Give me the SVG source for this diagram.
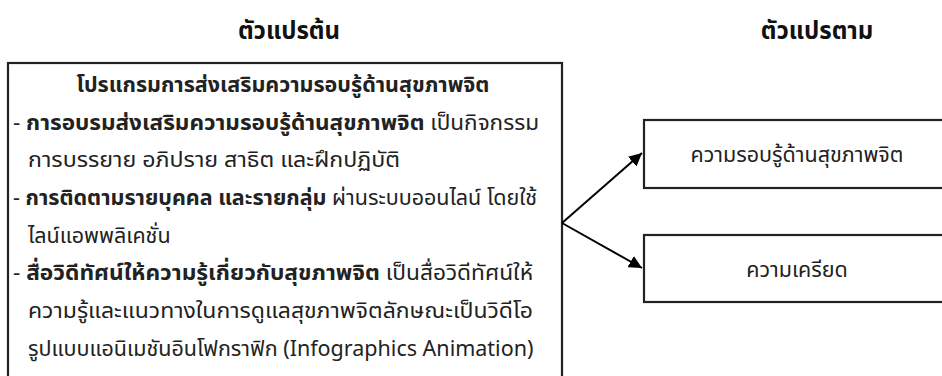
<svg xmlns="http://www.w3.org/2000/svg" width="942" height="376" viewBox="0 0 942 376">
<style>
text{font-family:"Noto Sans Thai","Noto Sans","DejaVu Sans",sans-serif;fill:#222;}
.h{font-size:24px;font-weight:bold;fill:#111;}
.t{font-size:21.5px;}
.b{font-weight:bold;}
.box{fill:#fff;stroke:#222;stroke-width:2.2;}
.c{stroke:#000;stroke-width:2;fill:none;}
</style>
<defs>
<marker id="ah" viewBox="0 0 10 10" refX="10" refY="5" markerWidth="6.5" markerHeight="6.5" orient="auto" markerUnits="strokeWidth">
<path d="M0,0 L10,5 L0,10 z" fill="#000"/>
</marker>
</defs>
<rect width="942" height="376" fill="#fff"/>
<g id="headers">
<text class="h" x="289" y="39" text-anchor="middle">ตัวแปรต้น</text>
<text class="h" x="817" y="39" text-anchor="middle">ตัวแปรตาม</text>
</g>
<g id="program">
<rect class="box" x="8" y="63" width="554" height="330"/>
<text class="t b" x="283" y="92" text-anchor="middle">โปรแกรมการส่งเสริมความรอบรู้ด้านสุขภาพจิต</text>
<text class="t" x="13" y="130" textLength="526" lengthAdjust="spacingAndGlyphs">- <tspan class="b">การอบรมส่งเสริมความรอบรู้ด้านสุขภาพจิต</tspan> เป็นกิจกรรม</text>
<text class="t" x="28" y="167" textLength="372" lengthAdjust="spacingAndGlyphs">การบรรยาย อภิปราย สาธิต และฝึกปฏิบัติ</text>
<text class="t" x="13" y="205">- <tspan class="b">การติดตามรายบุคคล และรายกลุ่ม</tspan> ผ่านระบบออนไลน์ โดยใช้</text>
<text class="t" x="28" y="243">ไลน์แอพพลิเคชั่น</text>
<text class="t" x="13" y="280" textLength="520" lengthAdjust="spacingAndGlyphs">- <tspan class="b">สื่อวิดีทัศน์ให้ความรู้เกี่ยวกับสุขภาพจิต</tspan> เป็นสื่อวิดีทัศน์ให้</text>
<text class="t" x="28" y="318" textLength="505" lengthAdjust="spacingAndGlyphs">ความรู้และแนวทางในการดูแลสุขภาพจิตลักษณะเป็นวิดีโอ</text>
<text class="t" x="28" y="356">รูปแบบแอนิเมชันอินโฟกราฟิก (Infographics Animation)</text>
</g>
<g id="literacy">
<rect class="box" x="644" y="120" width="310" height="68"/>
<text class="t" x="797" y="162" text-anchor="middle">ความรอบรู้ด้านสุขภาพจิต</text>
</g>
<g id="stress">
<rect class="box" x="644" y="235" width="310" height="67"/>
<text class="t" x="797" y="277" text-anchor="middle">ความเครียด</text>
</g>
<g id="connectors">
<line class="c" x1="562" y1="223" x2="642" y2="153" marker-end="url(#ah)"/>
<line class="c" x1="562" y1="223" x2="642" y2="268" marker-end="url(#ah)"/>
</g>
</svg>
